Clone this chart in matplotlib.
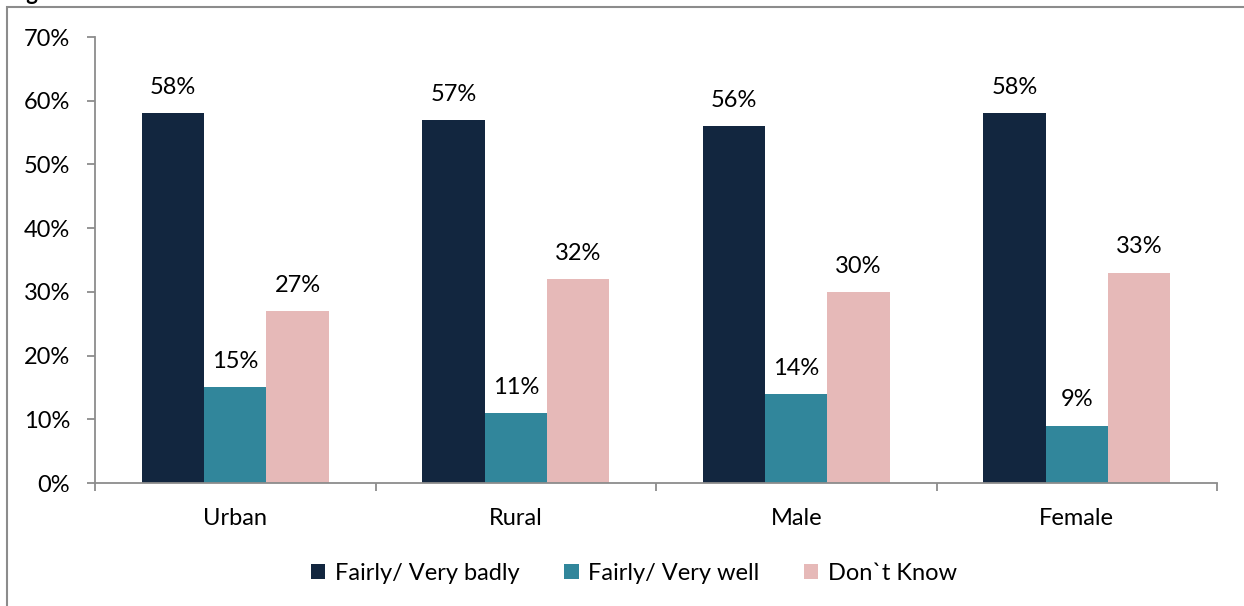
import matplotlib
matplotlib.use("Agg")
import matplotlib.pyplot as plt
from matplotlib.patches import Rectangle
from matplotlib.ticker import FixedLocator, NullFormatter
import numpy as np

categories = ["Urban", "Rural", "Male", "Female"]
series_names = ["Fairly/ Very badly", "Fairly/ Very well", "Don`t Know"]
very_badly = [58, 57, 56, 58]
very_well = [15, 11, 14, 9]
dont_know = [27, 32, 30, 33]
y_ticks = [0, 10, 20, 30, 40, 50, 60, 70]

colors = ["#12263F", "#31869B", "#E6B9B8"]
axis_gray = "#8C8C8C"
fs = 17

plt.rcParams["font.family"] = ["Lato", "DejaVu Sans"]

fig = plt.figure(figsize=(12.44, 6.06), dpi=100)
W, H = 1244, 606
ax = fig.add_axes([95 / W, 1 - 483 / H, (1217 - 95) / W, (483 - 37) / H])

x = np.arange(len(categories))
bw = 0.222
values = [very_badly, very_well, dont_know]
for i, (vals, name, col) in enumerate(zip(values, series_names, colors)):
    pos = x + (i - 1) * bw
    bars = ax.bar(pos, vals, width=bw, color=col, label=name, zorder=2)
    for b, v in zip(bars, vals):
        ax.annotate(f"{v}%", (b.get_x() + b.get_width() / 2, v),
                    xytext=(0, 11), textcoords="offset points",
                    ha="center", va="bottom", fontsize=fs, color="black")

ax.set_xlim(-0.5, len(categories) - 0.5)
ax.set_ylim(0, 70)
ax.set_yticks(y_ticks)
ax.set_yticklabels([f"{t}%" for t in y_ticks], fontsize=fs)
ax.xaxis.set_major_locator(FixedLocator(x))
ax.set_xticklabels(categories, fontsize=fs)
ax.xaxis.set_minor_locator(FixedLocator(np.arange(len(categories) + 1) - 0.5))
ax.xaxis.set_minor_formatter(NullFormatter())
ax.tick_params(axis="x", which="major", length=0, pad=18)
ax.tick_params(axis="x", which="minor", length=6, width=1.3, color=axis_gray, direction="out")
ax.tick_params(axis="y", length=6, width=1.3, color=axis_gray, direction="out", pad=12)

for s in ["top", "right"]:
    ax.spines[s].set_visible(False)
for s in ["left", "bottom"]:
    ax.spines[s].set_color(axis_gray)
    ax.spines[s].set_linewidth(1.3)

leg = fig.legend(loc="center", bbox_to_anchor=(634 / W, 1 - 573 / H), ncol=3,
                 frameon=False, fontsize=fs, handlelength=0.6, handleheight=0.6,
                 columnspacing=1.9, handletextpad=0.4)

# outer chart frame
fig.patches.append(Rectangle((7 / W, -0.1), 1.2, 1 - 7 / H + 0.1, transform=fig.transFigure,
                             fill=False, edgecolor=axis_gray, linewidth=1.5))

# figure title, running off the top edge
fig.text(8 / W, 1 - 0.5 / H, "Figure", fontsize=16, fontweight="bold", ha="left", va="baseline")

fig.savefig("out.png", dpi=100)
